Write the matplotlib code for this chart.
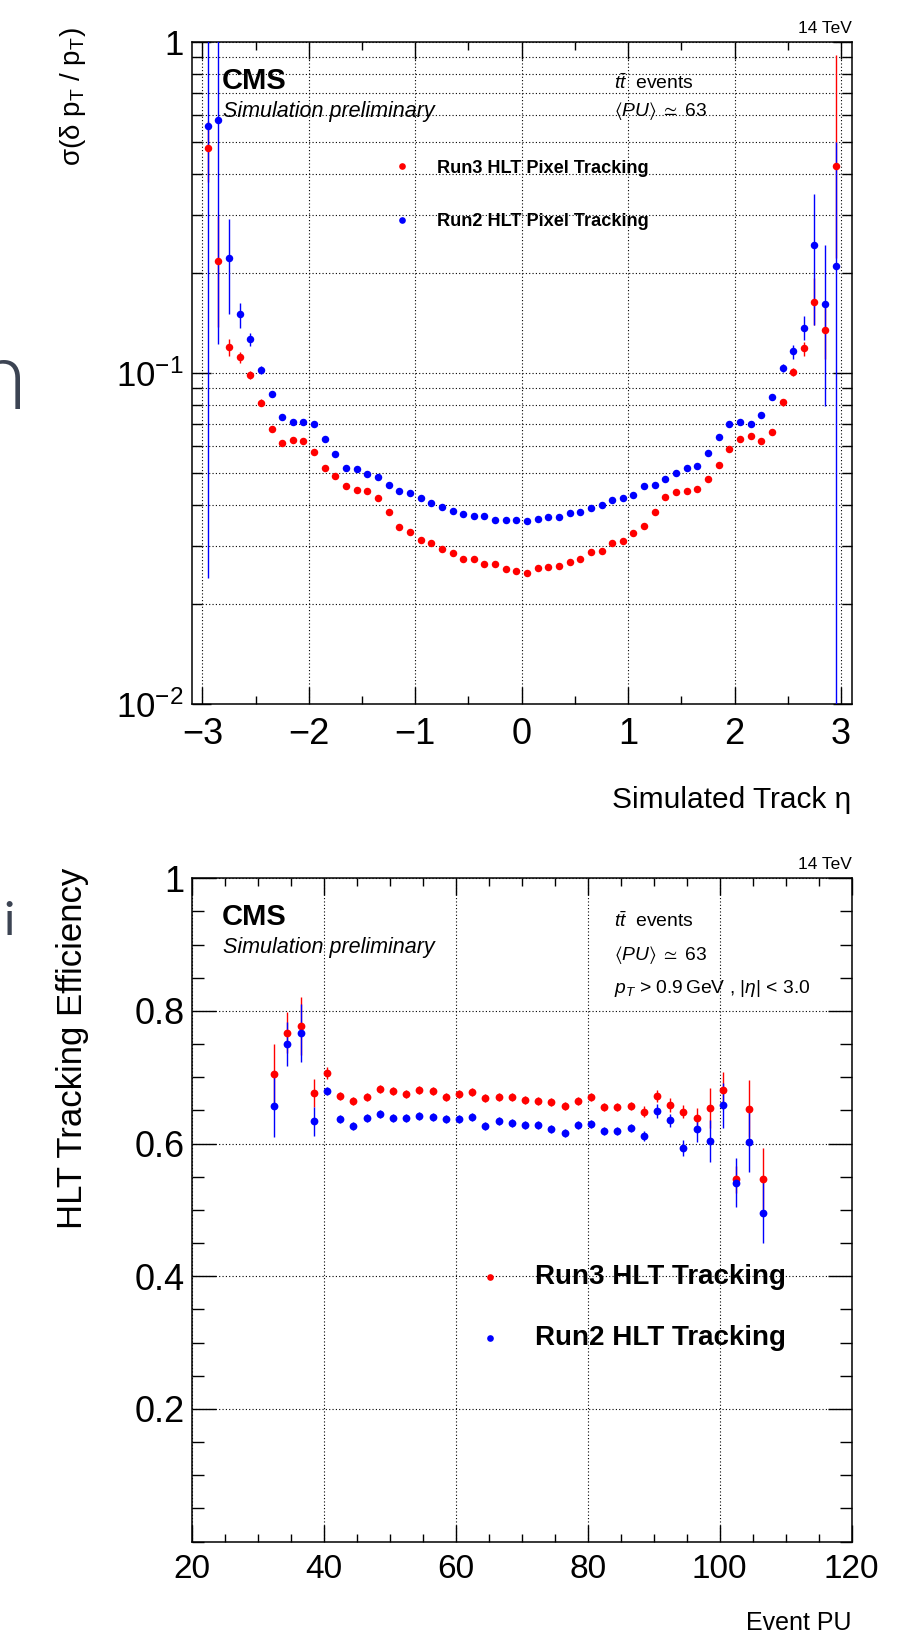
import matplotlib
matplotlib.use('Agg')
import matplotlib.pyplot as plt
from matplotlib import font_manager
from matplotlib.ticker import MultipleLocator, LogLocator, NullFormatter

# condensed face for the ROOT-like narrow labels (fall back to a smaller regular face)
_names = {f.name for f in font_manager.fontManager.ttflist}
NARROW = 'Liberation Sans Narrow' if 'Liberation Sans Narrow' in _names else 'Liberation Sans'
NS = 1.0 if NARROW == 'Liberation Sans Narrow' else 0.84

plt.rcParams['font.family'] = ['Liberation Sans', 'DejaVu Sans']
plt.rcParams['mathtext.fontset'] = 'custom'
plt.rcParams['mathtext.rm'] = 'Liberation Sans'
plt.rcParams['mathtext.it'] = NARROW + ':italic'
plt.rcParams['mathtext.bf'] = 'Liberation Sans:bold'
plt.rcParams['mathtext.sf'] = 'Liberation Sans'
plt.rcParams['mathtext.default'] = 'regular'
plt.rcParams['mathtext.fallback'] = 'stixsans'
plt.rcParams['axes.unicode_minus'] = True

# ---- top panel: pT resolution vs eta ----
eta = [-2.95, -2.85, -2.75, -2.65, -2.55, -2.45, -2.35, -2.25, -2.15, -2.05,
       -1.95, -1.85, -1.75, -1.65, -1.55, -1.45, -1.35, -1.25, -1.15, -1.05,
       -0.95, -0.85, -0.75, -0.65, -0.55, -0.45, -0.35, -0.25, -0.15, -0.05,
       0.05, 0.15, 0.25, 0.35, 0.45, 0.55, 0.65, 0.75, 0.85, 0.95,
       1.05, 1.15, 1.25, 1.35, 1.45, 1.55, 1.65, 1.75, 1.85, 1.95,
       2.05, 2.15, 2.25, 2.35, 2.45, 2.55, 2.65, 2.75, 2.85, 2.95]

res_run3 = [0.477, 0.218, 0.1195, 0.1115, 0.0986, 0.0813, 0.0676, 0.0614, 0.0626, 0.0623,
            0.0577, 0.0518, 0.0487, 0.0455, 0.0443, 0.0440, 0.0420, 0.0379, 0.0343, 0.0331,
            0.0313, 0.0307, 0.0293, 0.0285, 0.0275, 0.0275, 0.0265, 0.0264, 0.0256, 0.0252,
            0.0249, 0.0257, 0.0259, 0.0261, 0.0269, 0.0274, 0.0287, 0.0290, 0.0306, 0.0310,
            0.0329, 0.0346, 0.0380, 0.0422, 0.0436, 0.0441, 0.0445, 0.0477, 0.0526, 0.0588,
            0.0633, 0.0645, 0.0623, 0.0665, 0.0815, 0.1009, 0.1187, 0.1643, 0.1349, 0.422]
res_run3_lo = [0.1, 0.08, 0.007, 0.0045, 0.003, 0.002, 0, 0, 0, 0,
               0, 0, 0, 0, 0, 0, 0, 0, 0, 0,
               0, 0, 0, 0, 0, 0, 0, 0, 0, 0,
               0, 0, 0, 0, 0, 0, 0, 0, 0, 0,
               0, 0, 0, 0, 0, 0, 0, 0, 0, 0,
               0, 0, 0, 0, 0.002, 0.003, 0.006, 0.025, 0.025, 0.2]
res_run3_hi = [0.1, 0.08, 0.007, 0.0045, 0.003, 0.002, 0, 0, 0, 0,
               0, 0, 0, 0, 0, 0, 0, 0, 0, 0,
               0, 0, 0, 0, 0, 0, 0, 0, 0, 0,
               0, 0, 0, 0, 0, 0, 0, 0, 0, 0,
               0, 0, 0, 0, 0, 0, 0, 0, 0, 0,
               0, 0, 0, 0, 0.002, 0.003, 0.005, 0.03, 0.03, 0.491]

res_run2 = [0.559, 0.580, 0.2226, 0.151, 0.1264, 0.102, 0.0862, 0.0738, 0.0710, 0.0711,
            0.0703, 0.0630, 0.0570, 0.0515, 0.0514, 0.0494, 0.0484, 0.0459, 0.0439, 0.0435,
            0.0418, 0.0404, 0.0394, 0.0383, 0.0376, 0.0371, 0.0369, 0.0360, 0.0360, 0.0359,
            0.0358, 0.0363, 0.0367, 0.0367, 0.0377, 0.0380, 0.0392, 0.0398, 0.0412, 0.0419,
            0.0428, 0.0455, 0.0460, 0.0479, 0.0500, 0.0516, 0.0525, 0.0574, 0.0641, 0.0703,
            0.0710, 0.0700, 0.0745, 0.0846, 0.1038, 0.1165, 0.137, 0.2436, 0.1616, 0.211]
res_run2_lo = [0.535, 0.458, 0.072, 0.014, 0.006, 0.003, 0, 0, 0, 0,
               0, 0, 0, 0, 0, 0, 0, 0, 0, 0,
               0, 0, 0, 0, 0, 0, 0, 0, 0, 0,
               0, 0, 0, 0, 0, 0, 0, 0, 0, 0,
               0, 0, 0, 0, 0, 0, 0, 0, 0, 0,
               0, 0, 0, 0, 0.003, 0.006, 0.011, 0.104, 0.082, 0.206]
res_run2_hi = [1.0, 1.0, 0.070, 0.012, 0.006, 0.003, 0, 0, 0, 0,
               0, 0, 0, 0, 0, 0, 0, 0, 0, 0,
               0, 0, 0, 0, 0, 0, 0, 0, 0, 0,
               0, 0, 0, 0, 0, 0, 0, 0, 0, 0,
               0, 0, 0, 0, 0, 0, 0, 0, 0, 0,
               0, 0, 0, 0, 0.003, 0.005, 0.012, 0.103, 0.082, 0.289]

eta_ticks = [-3, -2, -1, 0, 1, 2, 3]
eta_ticklabels = ['\u22123', '\u22122', '\u22121', '0', '1', '2', '3']
res_ticks = [0.01, 0.1, 1]
res_ticklabels = ['$10^{-2}$', '$10^{-1}$', '1']

# ---- bottom panel: efficiency vs pileup ----
pu = [32.5, 34.5, 36.5, 38.5, 40.5, 42.5, 44.5, 46.5, 48.5, 50.5,
      52.5, 54.5, 56.5, 58.5, 60.5, 62.5, 64.5, 66.5, 68.5, 70.5,
      72.5, 74.5, 76.5, 78.5, 80.5, 82.5, 84.5, 86.5, 88.5, 90.5,
      92.5, 94.5, 96.5, 98.5, 100.5, 102.5, 104.5, 106.5]

eff_run3 = [0.7045, 0.7673, 0.7774, 0.6764, 0.7070, 0.6714, 0.6643, 0.6709, 0.6829, 0.6794,
            0.6754, 0.6804, 0.6789, 0.6698, 0.6754, 0.6784, 0.6683, 0.6704, 0.6704, 0.6653,
            0.6648, 0.6628, 0.6568, 0.6643, 0.6709, 0.6553, 0.6553, 0.6573, 0.6482, 0.6719,
            0.6583, 0.6482, 0.6392, 0.6543, 0.6804, 0.5462, 0.6528, 0.5467]
eff_run3_err = [0.046, 0.031, 0.044, 0.021, 0.009, 0.006, 0.006, 0.006, 0.006, 0.006,
                0.006, 0.006, 0.006, 0.006, 0.006, 0.006, 0.006, 0.006, 0.006, 0.006,
                0.006, 0.006, 0.006, 0.006, 0.006, 0.006, 0.006, 0.006, 0.008, 0.009,
                0.011, 0.010, 0.015, 0.030, 0.028, 0.020, 0.043, 0.046]

eff_run2 = [0.6568, 0.7503, 0.7663, 0.6337, 0.6789, 0.6367, 0.6266, 0.6392, 0.6452, 0.6387,
            0.6392, 0.6422, 0.6402, 0.6367, 0.6367, 0.6402, 0.6261, 0.6347, 0.6307, 0.6286,
            0.6276, 0.6216, 0.6156, 0.6286, 0.6302, 0.6191, 0.6191, 0.6236, 0.6116, 0.6492,
            0.6352, 0.5930, 0.6216, 0.6040, 0.6578, 0.5412, 0.6025, 0.4958]
eff_run2_err = [0.047, 0.033, 0.044, 0.022, 0.006, 0.006, 0.006, 0.006, 0.006, 0.006,
                0.006, 0.006, 0.006, 0.006, 0.006, 0.006, 0.006, 0.006, 0.006, 0.006,
                0.006, 0.006, 0.006, 0.006, 0.006, 0.006, 0.006, 0.006, 0.008, 0.010,
                0.010, 0.012, 0.019, 0.031, 0.034, 0.037, 0.045, 0.046]

pu_ticks = [20, 40, 60, 80, 100, 120]
pu_ticklabels = ['20', '40', '60', '80', '100', '120']
eff_ticks = [0.2, 0.4, 0.6, 0.8, 1.0]
eff_ticklabels = ['0.2', '0.4', '0.6', '0.8', '1']

W, H = 910, 1651


def fxy(x, y):
    # pixel position (from top-left) -> figure fraction
    return x / W, 1 - y / H


fig = plt.figure(figsize=(W / 100, H / 100), dpi=100)
ax1 = fig.add_axes([191.7 / W, 1 - 704 / H, 660 / W, 662 / H])
ax2 = fig.add_axes([191.7 / W, 1 - 1541.6 / H, 660 / W, 663.3 / H])

grid_style = dict(color='black', linestyle=(0, (1, 2)), linewidth=0.8)
narrow = [NARROW, 'DejaVu Sans']

# top panel
ax1.errorbar(eta, res_run3, yerr=[res_run3_lo, res_run3_hi], fmt='none',
             ecolor='red', elinewidth=1.0, capsize=0, zorder=2)
ax1.errorbar(eta, res_run2, yerr=[res_run2_lo, res_run2_hi], fmt='none',
             ecolor='blue', elinewidth=1.0, capsize=0, zorder=3)
ax1.plot(eta, res_run3, 'o', color='red', ms=5.4, mec='none', zorder=4)
ax1.plot(eta, res_run2, 'o', color='blue', ms=5.4, mec='none', zorder=5)

ax1.set_yscale('log')
ax1.set_xlim(-3.1, 3.1)
ax1.set_ylim(0.01, 1)
ax1.set_xticks(eta_ticks, labels=eta_ticklabels)
ax1.xaxis.set_minor_locator(MultipleLocator(0.5))
ax1.set_yticks(res_ticks, labels=res_ticklabels)
ax1.yaxis.set_minor_locator(LogLocator(base=10, subs=range(2, 10)))
ax1.yaxis.set_minor_formatter(NullFormatter())
ax1.tick_params(which='both', direction='in', top=True, right=True, width=1.0)
ax1.tick_params(axis='x', which='major', length=12, labelsize=26, pad=9)
ax1.tick_params(axis='x', which='minor', length=6)
ax1.tick_params(axis='y', which='major', length=14, labelsize=25, pad=6)
ax1.tick_params(axis='y', which='minor', length=7)
ax1.grid(axis='x', which='major', **grid_style)
ax1.grid(axis='y', which='both', **grid_style)
ax1.set_axisbelow(True)

ax1.set_xlabel('Simulated Track \u03b7', fontsize=21.5, loc='right')
ax1.xaxis.set_label_coords(1.0, -0.157)
ax1.xaxis.label.set_va('baseline')
ax1.set_ylabel(r'σ(δ p$_{T}$ / p$_{T}$)', fontsize=20, loc='top', family=narrow)
ax1.yaxis.set_label_coords(-0.157, 1.023)

# bottom panel
ax2.errorbar(pu, eff_run3, yerr=eff_run3_err, fmt='none',
             ecolor='red', elinewidth=1.0, capsize=0, zorder=2)
ax2.errorbar(pu, eff_run2, yerr=eff_run2_err, fmt='none',
             ecolor='blue', elinewidth=1.0, capsize=0, zorder=3)
ax2.plot(pu, eff_run3, 'o', color='red', ms=5.6, mec='none', zorder=4)
ax2.plot(pu, eff_run2, 'o', color='blue', ms=5.6, mec='none', zorder=5)

ax2.set_xlim(20, 120)
ax2.set_ylim(0, 1)
ax2.set_xticks(pu_ticks, labels=pu_ticklabels)
ax2.xaxis.set_minor_locator(MultipleLocator(5))
ax2.set_yticks(eff_ticks, labels=eff_ticklabels)
ax2.yaxis.set_minor_locator(MultipleLocator(0.05))
ax2.tick_params(which='both', direction='in', top=True, right=True, width=1.0)
ax2.tick_params(axis='x', which='major', length=12, labelsize=24, pad=9,
                labelfontfamily=NARROW)
ax2.tick_params(axis='x', which='minor', length=6)
ax2.tick_params(axis='y', which='major', length=17, labelsize=26, pad=5)
ax2.tick_params(axis='y', which='minor', length=8.5)
ax2.grid(which='major', **grid_style)
ax2.set_axisbelow(True)

ax2.set_xlabel('Event PU', fontsize=18, loc='right', family=narrow)
ax2.xaxis.set_label_coords(1.0, -0.1333)
ax2.xaxis.label.set_va('baseline')
ax2.set_ylabel('HLT Tracking Efficiency', fontsize=25, loc='top')
ax2.yaxis.set_label_coords(-0.156, 1.016)

for ax in (ax1, ax2):
    for sp in ax.spines.values():
        sp.set_linewidth(1.1)

# annotations (CMS style)
fig.text(*fxy(851.7, 33), '14 TeV', fontsize=12.5, ha='right', va='baseline')
fig.text(*fxy(851.7, 869), '14 TeV', fontsize=12.5, ha='right', va='baseline')

for dy in (0, 836):
    fig.text(*fxy(222, 89.3 + dy), 'CMS', fontsize=21, weight='bold', va='baseline')
    fig.text(*fxy(223, 117 + dy), 'Simulation preliminary', fontsize=15.5,
             style='italic', va='baseline')

tt_label = r'$\mathit{t\bar{t}}$  events'
pu_label = r'$\langle\mathit{PU}\rangle\;\simeq\;63$'
cut_label = r'$\mathit{p_{T}}$ > 0.9$\,$GeV , |$\mathit{η}$| < 3.0'
fig.text(*fxy(614, 89), tt_label, fontsize=16.5 * NS, family=narrow, va='baseline')
fig.text(*fxy(614, 116), pu_label, fontsize=16.5 * NS, family=narrow, va='baseline')
fig.text(*fxy(614, 926.7), tt_label, fontsize=16.5 * NS, family=narrow, va='baseline')
fig.text(*fxy(614, 960), pu_label, fontsize=16.5 * NS, family=narrow, va='baseline')
fig.text(*fxy(614, 992.7), cut_label, fontsize=16.5 * NS, family=narrow, va='baseline')

# legends
leg_top = [('Run3 HLT Pixel Tracking', 'red', 166, 173),
           ('Run2 HLT Pixel Tracking', 'blue', 220, 226.5)]
for label, col, ym, yb in leg_top:
    ax1.plot(*fxy(401.6, ym), 'o', color=col, ms=4.8, mec='none',
             transform=fig.transFigure, clip_on=False)
    fig.text(*fxy(437, yb), label, fontsize=15.5 * NS, weight='bold', family=narrow,
             va='baseline')

leg_bot = [('Run3 HLT Tracking', 'red', 1277, 1284),
           ('Run2 HLT Tracking', 'blue', 1338, 1345)]
for label, col, ym, yb in leg_bot:
    ax2.plot(*fxy(490.4, ym), 'o', color=col, ms=4.8, mec='none',
             transform=fig.transFigure, clip_on=False)
    fig.text(*fxy(535, yb), label, fontsize=20, weight='bold', va='baseline')

# cut-off slide letters at the left edge
slide_font = ['Lato', 'Liberation Sans']
fig.text(*fxy(-26.5, 409), 'n', fontsize=70, color='#3c4453', family=slide_font,
         weight=300, va='baseline')
fig.text(*fxy(3.8, 935), 'i', fontsize=34, color='#3c4453', family=slide_font,
         weight='normal', va='baseline')

fig.savefig('out.png', dpi=100)
